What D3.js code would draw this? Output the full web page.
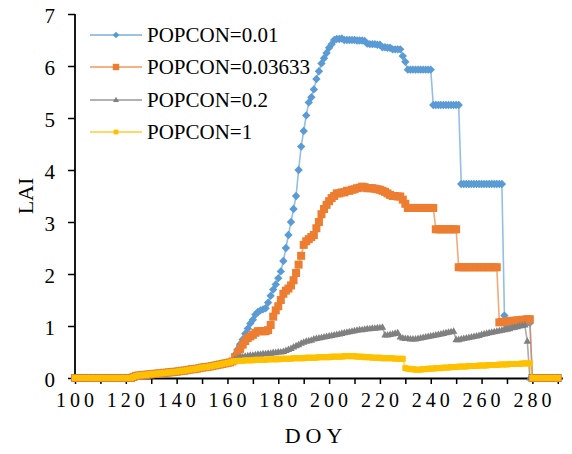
<!DOCTYPE html>
<html><head><meta charset="utf-8">
<script src="https://cdn.jsdelivr.net/npm/d3@7"></script>
<style>body{margin:0;background:#fff;} svg{display:block;}</style>
</head><body><svg id="c" width="572" height="454"></svg>
<script>
// DOY 100..161 shared by all runs
const sharedEarly = [0,0,0,0,0,0,0,0,0,0,0,0,0,0,0,0,0,0,0,0,0,0,0,
  0.02,0.04,0.05,0.05,0.06,0.06,0.07,0.07,0.08,0.08,0.09,0.09,0.10,0.10,0.11,0.11,0.12,0.12,
  0.13,0.14,0.14,0.15,0.16,0.17,0.17,0.18,0.19,0.20,0.21,0.21,0.22,0.23,0.24,0.25,0.26,0.27,0.28,0.29,0.30];
// DOY 162..290
const lai001 = [0.33,0.45,0.55,0.65,0.74,0.85,0.95,1.05,1.12,1.22,1.27,1.30,1.32,1.34,1.45,1.58,1.70,1.80,1.92,2.05,
  2.25,2.50,2.75,3.00,3.25,3.50,4.00,4.45,4.75,5.05,5.30,5.40,5.55,5.75,5.90,6.05,6.15,6.25,6.35,6.42,
  6.50,6.52,6.52,6.53,6.50,6.50,6.50,6.50,6.50,6.49,6.49,6.49,6.48,6.43,6.42,6.42,6.42,6.41,6.41,6.36,
  6.36,6.35,6.35,6.32,6.32,6.32,6.32,6.19,6.08,5.93,
  5.93,5.93,5.93,5.93,5.93,5.93,5.93,5.93,5.93,
  5.25,5.25,5.25,5.25,5.25,5.25,5.25,5.25,5.25,5.25,5.25,
  3.73,3.73,3.73,3.73,3.73,3.73,3.73,3.73,3.73,3.73,3.73,3.73,3.73,3.73,3.73,3.73,3.73,
  1.20,0.98,0.99,1.00,1.01,1.02,1.03,1.04,1.05,1.06,1.06,
  0,0,0,0,0,0,0,0,0,0,0];
const lai03633 = [0.32,0.40,0.48,0.56,0.64,0.71,0.77,0.80,0.83,0.87,0.90,0.90,0.90,0.90,0.92,1.02,1.18,1.30,1.38,1.50,
  1.62,1.68,1.72,1.78,1.88,2.02,2.18,2.35,2.56,2.63,2.67,2.71,2.75,2.88,3.00,3.15,3.25,3.33,3.40,3.46,
  3.50,3.55,3.55,3.57,3.57,3.60,3.60,3.62,3.63,3.65,3.66,3.68,3.67,3.65,3.65,3.65,3.64,3.63,3.62,3.60,
  3.58,3.55,3.52,3.50,3.50,3.49,3.49,3.43,3.35,3.27,
  3.27,3.27,3.27,3.27,3.27,3.27,3.27,3.27,3.27,3.27,
  2.86,2.86,2.86,2.86,2.86,2.86,2.86,2.86,2.86,
  2.13,2.13,2.13,2.13,2.13,2.13,2.13,2.13,2.13,2.13,2.13,2.13,2.13,2.13,2.13,2.13,
  1.07,1.08,1.08,1.09,1.09,1.10,1.10,1.11,1.11,1.12,1.12,1.13,1.13,
  0,0,0,0,0,0,0,0,0,0,0];
const lai02 = [0.32,0.36,0.38,0.40,0.41,0.42,0.43,0.44,0.44,0.45,0.46,0.46,0.47,0.47,0.48,0.48,0.49,0.49,0.50,0.50,
  0.51,0.53,0.55,0.57,0.60,0.62,0.64,0.67,0.69,0.71,0.72,0.73,0.75,0.76,0.77,0.78,0.79,0.80,0.81,0.82,
  0.83,0.84,0.85,0.86,0.87,0.88,0.89,0.90,0.91,0.92,0.93,0.93,0.94,0.95,0.95,0.96,0.96,0.97,0.97,0.98,
  0.83,0.83,0.84,0.85,0.86,0.87,0.79,0.77,0.76,0.76,
  0.75,0.75,0.75,0.76,0.77,0.78,0.79,0.80,0.81,0.82,0.83,0.84,0.85,0.86,0.87,0.88,0.89,0.90,
  0.74,0.74,0.75,0.76,0.77,0.78,0.79,0.80,0.81,0.82,0.84,0.85,0.86,0.87,0.88,0.89,0.90,0.91,0.92,0.93,
  0.94,0.95,0.97,0.98,0.99,1.00,1.01,1.02,0.71,0,
  0,0,0,0,0,0,0,0,0,0,0];
const lai1 = [0.32,0.32,0.33,0.33,0.33,0.34,0.34,0.34,0.34,0.35,0.35,0.35,0.35,0.35,0.36,0.36,0.36,0.36,0.36,0.37,
  0.37,0.37,0.37,0.37,0.38,0.38,0.38,0.38,0.38,0.39,0.39,0.39,0.39,0.39,0.40,0.40,0.40,0.40,0.40,0.41,
  0.41,0.41,0.41,0.41,0.42,0.42,0.42,0.42,0.42,0.41,0.41,0.41,0.40,0.40,0.40,0.39,0.39,0.39,0.39,0.38,
  0.38,0.38,0.38,0.38,0.37,0.37,0.37,0.37,0.19,0.18,
  0.17,0.17,0.16,0.16,0.16,0.17,0.17,0.18,0.18,0.18,0.19,0.19,0.19,0.20,0.20,0.20,0.21,0.21,0.21,0.22,
  0.22,0.22,0.22,0.23,0.23,0.23,0.23,0.24,0.24,0.24,0.24,0.25,0.25,0.25,0.25,0.26,0.26,0.26,0.26,0.27,
  0.27,0.27,0.27,0.27,0.28,0.28,0.28,0.28,
  0,0,0,0,0,0,0,0,0,0,0];

const seriesNames = ["POPCON=0.01","POPCON=0.03633","POPCON=0.2","POPCON=1"];
const seriesColors = ["#5B9BD5","#ED7D31","#808080","#FFC000"];
const seriesShapes = ["diamond","square","triangle","smallsquare"];
const firstDoy = 100;
const xTickValues = d3.range(100, 291, 10);
const xLabelValues = d3.range(100, 281, 20);
const yTickValues = [0,1,2,3,4,5,6,7];
const xTitle = "DOY", yTitle = "LAI";

const seriesValues = [lai001, lai03633, lai02, lai1].map(a => sharedEarly.concat(a));

const svg = d3.select("#c");
const x = d3.scaleLinear().domain([100, 292]).range([75, 75 + 192*2.541]);
const y = d3.scaleLinear().domain([0, 7]).range([378, 14]);
const serif = "'Liberation Serif','Times New Roman',serif";

// axes
const xAxis = svg.append("g").attr("transform","translate(0,378)")
  .call(d3.axisBottom(x).tickValues(xTickValues).tickSize(6).tickFormat(""));
xAxis.select(".domain").attr("d", `M${x(100)-2},0.5H${x(292)}`).attr("stroke","#000").attr("stroke-width",1.8);
xAxis.selectAll(".tick line").attr("stroke","#000").attr("stroke-width",1.5);
const yAxis = svg.append("g").attr("transform","translate(75,0)")
  .call(d3.axisLeft(y).tickValues(yTickValues).tickSize(7).tickFormat(""));
yAxis.select(".domain").attr("d", `M0,${y(0)}V${y(7)}`).attr("stroke","#000").attr("stroke-width",1.8);
yAxis.selectAll(".tick line").attr("stroke","#000").attr("stroke-width",1.5);

// tick labels
svg.append("g").selectAll("text").data(xLabelValues).join("text")
  .attr("x", d => x(d) + 2).attr("y", 407)
  .attr("text-anchor","middle").attr("font-family",serif).attr("font-size",20)
  .attr("letter-spacing","4px").attr("fill","#000").text(d => d);
svg.append("g").selectAll("text").data(yTickValues).join("text")
  .attr("x", 55).attr("y", d => y(d) + 9)
  .attr("text-anchor","end").attr("font-family",serif).attr("font-size",21)
  .attr("fill","#000").text(d => d);

// titles
svg.append("text").attr("x",316).attr("y",443).attr("text-anchor","middle")
  .attr("font-family",serif).attr("font-size",22).attr("letter-spacing","5px").text(xTitle);
svg.append("text").attr("transform","translate(33,196) rotate(-90)").attr("text-anchor","middle")
  .attr("font-family",serif).attr("font-size",22).text(yTitle);

function marker(sel, shape, color, scale) {
  scale = scale || 1;
  if (shape === "diamond") {
    const r = 4.2*scale;
    sel.append("path").attr("d",`M0,${-r}L${r},0L0,${r}L${-r},0Z`).attr("fill",color);
  } else if (shape === "square") {
    const s = 8*scale;
    sel.append("rect").attr("x",-s/2).attr("y",-s/2).attr("width",s).attr("height",s).attr("fill",color);
  } else if (shape === "triangle") {
    const w = 7.5*scale, h = w*0.87;
    sel.append("path").attr("d",`M0,${-h*0.6}L${w/2},${h*0.4}L${-w/2},${h*0.4}Z`).attr("fill",color);
  } else {
    const s = 6*scale;
    sel.append("rect").attr("x",-s/2).attr("y",-s/2).attr("width",s).attr("height",s).attr("fill",color);
  }
}

const line = d3.line().x((d,i) => x(firstDoy + i)).y(d => y(d));
seriesValues.forEach((vals, k) => {
  const g = svg.append("g");
  g.append("path").attr("d", line(vals)).attr("fill","none")
    .attr("stroke", seriesColors[k]).attr("stroke-width",1.6).attr("stroke-opacity",0.65);
  vals.forEach((v, i) => {
    const m = g.append("g").attr("transform",`translate(${x(firstDoy+i)},${y(v)})`);
    marker(m, seriesShapes[k], seriesColors[k]);
  });
});

// legend
const legY = [35, 67, 100, 132];
seriesNames.forEach((name, k) => {
  const g = svg.append("g").attr("transform",`translate(0,${legY[k]})`);
  g.append("line").attr("x1",90).attr("x2",142).attr("y1",0).attr("y2",0)
    .attr("stroke",seriesColors[k]).attr("stroke-width",1.6).attr("stroke-opacity",0.8);
  const m = g.append("g").attr("transform","translate(116,0)");
  marker(m, seriesShapes[k], seriesColors[k], 0.8);
  g.append("text").attr("x",147).attr("y",7).attr("font-family",serif).attr("font-size",21)
    .attr("fill","#000").text(name);
});
</script></body></html>
